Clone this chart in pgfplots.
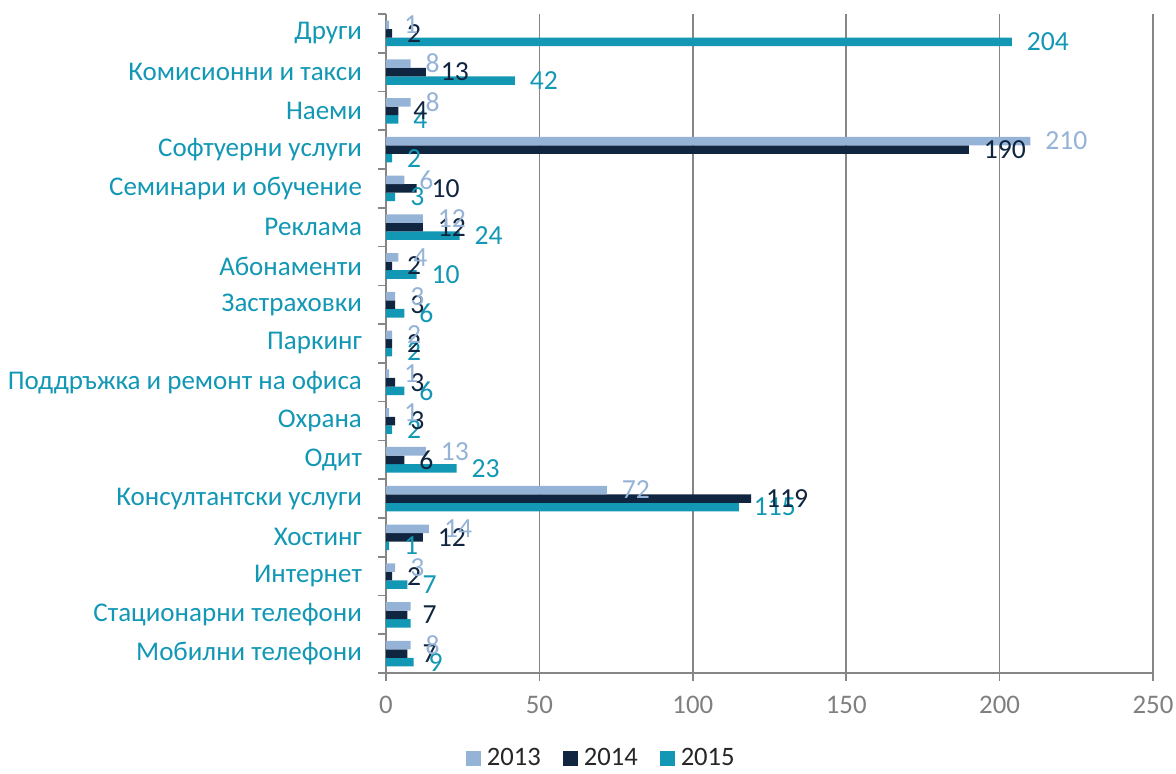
\documentclass[border=0pt]{standalone}
\usepackage{fontspec}
\setmainfont{Carlito}
\usepackage{pgfplots}
\usepackage{pgfplotstable}
\pgfplotsset{compat=1.18}

\definecolor{c13}{HTML}{95B3D7}
\definecolor{c14}{HTML}{10253F}
\definecolor{c15}{HTML}{1297B5}
\definecolor{axgray}{HTML}{868686}
\definecolor{tickgray}{HTML}{7F7F7F}

% y: 0 = bottom category
\pgfplotstableread{
y  a   la   b   lb   c   lc
0  8   8    7   7    9   9
1  8   {}   7   7    8   {}
2  3   3    2   2    7   7
3  14  14   12  12   1   1
4  72  72   119 119  115 115
5  13  13   6   6    23  23
6  1   1    3   3    2   2
7  1   1    3   3    6   6
8  2   2    2   2    2   2
9  3   3    3   3    6   6
10 4   4    2   2    10  10
11 12  12   12  12   24  24
12 6   6    10  10   3   3
13 210 210  190 190  2   2
14 8   8    4   4    4   4
15 8   8    13  13   42  42
16 1   1    2   2    204 204
}\data

\begin{document}
\begin{tikzpicture}
\begin{axis}[
  xbar=0pt,
  bar width=0.22,
  scale only axis,
  width=383.5pt, height=329.5pt,
  xmin=0, xmax=250,
  ymin=-0.5, ymax=16.5,
  axis lines*=left,
  axis line style={axgray, line width=1pt},
  xtick={0,50,100,150,200,250},
  xmajorgrids,
  grid style={axgray, line width=0.8pt},
  ytick={0,...,16},
  yticklabels={Мобилни телефони, Стационарни телефони, Интернет, Хостинг,
    Консултантски услуги, Одит, Охрана, Поддръжка и ремонт на офиса, Паркинг,
    Застраховки, Абонаменти, Реклама, Семинари и обучение, Софтуерни услуги,
    Наеми, Комисионни и такси, Други},
  minor ytick={-0.5,0.5,...,16.5},
  tick align=outside,
  major tick length=4pt,
  minor tick length=4pt,
  tick style={axgray, line width=0.8pt},
  major y tick style={draw=none},
  yticklabel style={font=\fontsize{13.5}{15}\selectfont, text=c15, xshift=-4.5pt},
  xticklabel style={font=\fontsize{13.4}{15}\selectfont, text=tickgray, yshift=-4pt},
  /pgf/number format/assume math mode=true,
  clip=false,
  point meta=explicit symbolic,
  nodes near coords,
  every node near coord/.append style={font=\fontsize{13.8}{15}\selectfont, anchor=west, xshift=4pt},
  reverse legend,
  legend columns=3,
  legend style={at={(0.282,-0.13)}, anchor=center, draw=none,
    font=\fontsize{13.3}{15}\selectfont, text=black!85,
    /tikz/every odd column/.append style={column sep=1pt},
    /tikz/every even column/.append style={column sep=9pt}},
  legend image code/.code={\draw[#1,draw=none] (0pt,-3.75pt) rectangle (7.5pt,3.75pt);},
]
\addplot[fill=c15, draw=none, every node near coord/.append style={text=c15}]
  table[x=c, y=y, meta=lc] {\data};
\addplot[fill=c14, draw=none, every node near coord/.append style={text=c14}]
  table[x=b, y=y, meta=lb] {\data};
\addplot[fill=c13, draw=none, every node near coord/.append style={text=c13}]
  table[x=a, y=y, meta=la] {\data};
\legend{2015,2014,2013}
\end{axis}
\pgfresetboundingbox
\path[use as bounding box] (-193pt,-50.5pt) rectangle (395pt,336.5pt);
\end{tikzpicture}
\end{document}
